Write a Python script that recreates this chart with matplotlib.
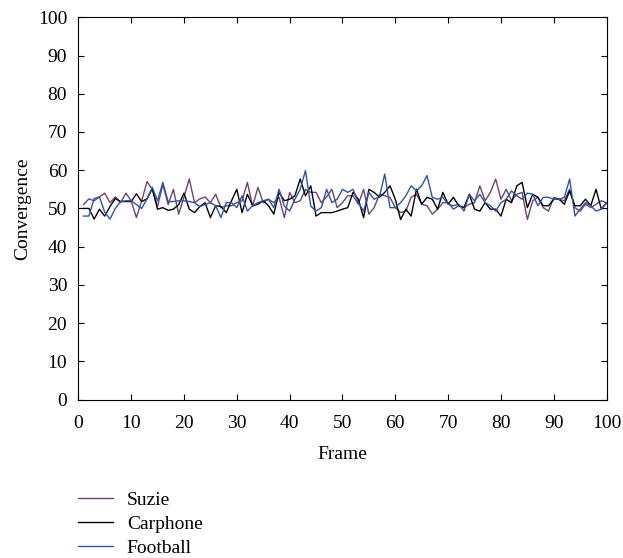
import numpy as np
import matplotlib
matplotlib.use("Agg")
import matplotlib.pyplot as plt

plt.rcParams['font.family'] = ['Liberation Serif', 'DejaVu Serif']

frames = np.arange(1, 101)

suzie = [51.0, 52.5, 52.0, 53.0, 54.0, 51.5, 53.0, 51.5, 54.0, 52.0,
         47.6, 52.0, 57.0, 55.0, 50.5, 56.3, 51.0, 55.0, 48.5, 53.0,
         57.7, 51.5, 52.5, 53.0, 51.5, 53.7, 50.2, 50.7, 50.7, 51.5,
         52.0, 56.8, 50.6, 55.5, 51.5, 52.4, 51.5, 52.9, 47.6, 54.2,
         51.5, 52.0, 55.0, 54.2, 54.2, 51.5, 53.0, 55.0, 50.2, 51.5,
         53.3, 53.3, 51.1, 55.0, 48.5, 50.2, 53.7, 53.3, 52.9, 50.2,
         48.9, 49.3, 52.9, 53.7, 51.1, 50.7, 48.5, 49.8, 51.5, 51.5,
         49.8, 50.7, 50.2, 51.1, 51.5, 55.9, 52.0, 54.2, 57.7, 52.4,
         55.0, 52.0, 53.7, 54.2, 47.1, 52.0, 52.9, 50.2, 49.3, 52.9,
         52.4, 52.0, 55.0, 50.2, 49.3, 51.1, 50.2, 51.1, 52.0, 51.5]

carphone = [50.0, 50.0, 47.2, 49.8, 48.0, 50.5, 52.6, 51.8, 51.8, 51.8,
            53.8, 51.8, 52.5, 55.1, 49.8, 50.2, 49.5, 49.8, 51.0, 54.0,
            49.8, 48.9, 50.5, 51.5, 47.6, 50.7, 50.5, 48.9, 52.0, 55.0,
            48.9, 53.7, 50.7, 51.1, 52.0, 50.7, 48.5, 54.2, 52.0, 52.4,
            53.3, 57.7, 53.3, 55.9, 48.0, 48.9, 48.9, 48.9, 49.3, 49.8,
            50.2, 54.2, 52.4, 47.6, 55.0, 54.2, 52.9, 54.2, 55.9, 52.4,
            47.1, 49.8, 48.0, 55.0, 51.1, 52.9, 52.4, 49.8, 54.2, 51.1,
            52.9, 50.7, 50.2, 53.7, 49.8, 49.3, 51.5, 49.8, 49.8, 48.0,
            52.4, 51.5, 55.9, 56.8, 50.2, 53.7, 52.9, 50.7, 50.7, 52.4,
            52.4, 51.1, 54.6, 50.7, 50.7, 52.4, 50.7, 55.0, 49.8, 51.5]

football = [48.0, 48.0, 52.6, 53.0, 49.0, 47.2, 50.0, 51.8, 52.0, 52.0,
            51.0, 50.0, 52.5, 55.5, 52.0, 56.8, 51.8, 51.8, 52.0, 52.0,
            51.8, 51.5, 50.5, 51.0, 51.5, 50.7, 47.6, 51.5, 51.5, 50.2,
            53.3, 49.3, 50.7, 51.5, 52.0, 52.4, 50.2, 55.0, 50.6, 49.3,
            52.4, 55.0, 59.9, 50.6, 49.3, 50.2, 55.0, 51.5, 52.4, 55.0,
            54.2, 55.0, 51.5, 49.3, 54.2, 52.4, 53.0, 59.0, 50.2, 50.2,
            51.5, 53.3, 55.9, 54.6, 55.9, 58.6, 52.9, 52.4, 52.9, 51.1,
            50.7, 51.1, 49.3, 53.7, 52.0, 53.7, 51.5, 50.7, 49.3, 51.5,
            52.4, 54.6, 53.3, 52.4, 54.0, 53.7, 50.7, 52.9, 52.9, 52.4,
            52.4, 52.9, 57.7, 48.0, 49.8, 51.5, 50.7, 49.3, 49.8, 51.5]

fig = plt.figure(figsize=(6.23, 5.58), dpi=100)
ax = fig.add_axes([0.1257, 0.284, 0.848, 0.685])

l1, = ax.plot(frames, suzie, color='#6e4470', lw=1.0, label='Suzie')
l2, = ax.plot(frames, carphone, color='black', lw=1.0, label='Carphone')
l3, = ax.plot(frames, football, color='#2b52b5', lw=1.0, label='Football')

ax.set_xlim(0, 100)
ax.set_ylim(0, 100)
ax.set_xticks(np.arange(0, 101, 10))
ax.set_yticks(np.arange(0, 101, 10))
ax.tick_params(which='both', direction='in', top=True, right=True,
               labelsize=14, length=4)
ax.tick_params(axis='x', pad=11)
ax.tick_params(axis='y', pad=8)
ax.set_xlabel('Frame', fontsize=14, labelpad=10)
ax.set_ylabel('Convergence', fontsize=14, labelpad=5)

fig.legend(handles=[l1, l2, l3], loc='upper left',
           bbox_to_anchor=(0.113, 0.134), frameon=False, fontsize=14,
           handlelength=1.8, handletextpad=0.7, labelspacing=0.33,
           borderaxespad=0)

fig.savefig('out.png', dpi=100)
